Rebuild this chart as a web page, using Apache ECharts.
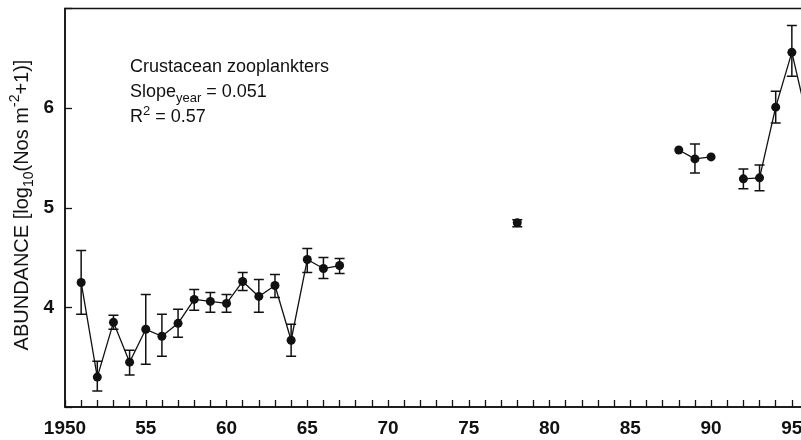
<!DOCTYPE html>
<html>
<head>
<meta charset="utf-8">
<script src="https://cdn.jsdelivr.net/npm/echarts@6/dist/echarts.min.js"></script>
<style>
  html, body { margin: 0; padding: 0; background: #fff; }
  #main { width: 801px; height: 440px; }
</style>
</head>
<body>
<div id="main"></div>
<script>
// data
const years = [1951, 1952, 1953, 1954, 1955, 1956, 1957, 1958, 1959, 1960, 1961, 1962, 1963, 1964, 1965, 1966, 1967,
  1978, 1988, 1989, 1990, 1992, 1993, 1994, 1995, 1996]
const abundance = [4.25, 3.30, 3.85, 3.45, 3.78, 3.71, 3.84, 4.08, 4.06, 4.04, 4.26, 4.11, 4.22, 3.67, 4.48, 4.39, 4.42,
  4.85, 5.58, 5.49, 5.51, 5.29, 5.30, 6.01, 6.56, 5.86]
const errLow = [3.93, 3.16, 3.78, 3.32, 3.43, 3.51, 3.70, 3.97, 3.95, 3.95, 4.17, 3.95, 4.10, 3.51, 4.35, 4.29, 4.34,
  4.81, null, 5.35, null, 5.19, 5.17, 5.85, 6.32, null]
const errHigh = [4.57, 3.46, 3.92, 3.57, 4.13, 3.93, 3.98, 4.18, 4.15, 4.13, 4.35, 4.28, 4.33, 3.83, 4.59, 4.50, 4.49,
  4.88, null, 5.64, null, 5.39, 5.43, 6.17, 6.83, null]
const yTicks = [4, 5, 6]

const font = 'Liberation Sans, Arial, Helvetica, sans-serif'
const ink = '#111'

// line only joins consecutive years
const lineData = []
years.forEach((y, i) => {
  if (i > 0 && y - years[i - 1] > 1) lineData.push('-')
  lineData.push([y, abundance[i]])
})
const errData = []
years.forEach((y, i) => {
  if (errLow[i] != null) errData.push([y, errLow[i], errHigh[i]])
})

const chart = echarts.init(document.getElementById('main'))
const option = {
  backgroundColor: '#fff',
  animation: false,
  grid: {
    left: 65,
    right: -7,
    top: 8.5,
    bottom: 33,
    outerBoundsMode: 'none',
    containLabel: false,
    show: true,
    borderColor: ink,
    borderWidth: 1.5
  },
  xAxis: {
    type: 'value',
    min: 1950,
    max: 1996,
    interval: 1,
    splitLine: { show: false },
    axisLine: { lineStyle: { color: ink, width: 1.5 } },
    axisTick: { inside: true, length: 7, lineStyle: { color: ink, width: 1.3 } },
    axisLabel: {
      margin: 12,
      color: ink,
      fontFamily: font,
      fontWeight: 'bold',
      fontSize: 19,
      formatter: (v) => {
        if (v % 5 !== 0 || v > 1995) return ''
        return v === 1950 ? '1950' : String(v % 100)
      }
    }
  },
  yAxis: {
    type: 'value',
    min: 3,
    max: 7,
    interval: 1,
    splitLine: { show: false },
    axisLine: { lineStyle: { color: ink, width: 1.5 } },
    axisTick: { inside: true, length: 7, lineStyle: { color: ink, width: 1.3 } },
    axisLabel: {
      margin: 11,
      color: ink,
      fontFamily: font,
      fontWeight: 'bold',
      fontSize: 19,
      formatter: (v) => (yTicks.indexOf(v) >= 0 ? String(v) : '')
    }
  },
  graphic: [
    {
      type: 'text',
      x: 22,
      y: 205,
      rotation: Math.PI / 2,
      style: {
        text: '{a|ABUNDANCE [log}{s|10}{a|(Nos m}{p|-2}{a|+1)]}',
        align: 'center',
        verticalAlign: 'middle',
        fill: ink,
        rich: {
          a: { fontFamily: font, fontSize: 20, lineHeight: 28, verticalAlign: 'middle', color: ink },
          s: { fontFamily: font, fontSize: 14, lineHeight: 13, verticalAlign: 'bottom', color: ink },
          p: { fontFamily: font, fontSize: 14, lineHeight: 13, verticalAlign: 'top', color: ink }
        }
      }
    },
    {
      type: 'text',
      x: 130,
      y: 67,
      style: {
        text: 'Crustacean zooplankters',
        font: '18px ' + font,
        fill: ink,
        verticalAlign: 'middle'
      }
    },
    {
      type: 'text',
      x: 130,
      y: 92,
      style: {
        text: '{a|Slope}{s|year}{a| = 0.051}',
        verticalAlign: 'middle',
        fill: ink,
        rich: {
          a: { fontFamily: font, fontSize: 18, lineHeight: 26, verticalAlign: 'middle', color: ink },
          s: { fontFamily: font, fontSize: 13, lineHeight: 12, verticalAlign: 'bottom', color: ink }
        }
      }
    },
    {
      type: 'text',
      x: 130,
      y: 117,
      style: {
        text: '{a|R}{p|2}{a| = 0.57}',
        verticalAlign: 'middle',
        fill: ink,
        rich: {
          a: { fontFamily: font, fontSize: 18, lineHeight: 24, verticalAlign: 'middle', color: ink },
          p: { fontFamily: font, fontSize: 13, lineHeight: 12, verticalAlign: 'top', color: ink }
        }
      }
    }
  ],
  series: [
    {
      type: 'custom',
      clip: true,
      data: errData,
      encode: { x: 0, y: [1, 2] },
      renderItem: (params, api) => {
        const lo = api.coord([api.value(0), api.value(1)])
        const hi = api.coord([api.value(0), api.value(2)])
        const w = 5
        const st = { stroke: ink, lineWidth: 1.5 }
        return {
          type: 'group',
          children: [
            { type: 'line', shape: { x1: lo[0], y1: lo[1], x2: hi[0], y2: hi[1] }, style: st },
            { type: 'line', shape: { x1: lo[0] - w, y1: lo[1], x2: lo[0] + w, y2: lo[1] }, style: st },
            { type: 'line', shape: { x1: hi[0] - w, y1: hi[1], x2: hi[0] + w, y2: hi[1] }, style: st }
          ]
        }
      }
    },
    {
      type: 'line',
      data: lineData,
      connectNulls: false,
      clip: true,
      symbol: 'circle',
      symbolSize: 9,
      lineStyle: { color: ink, width: 1.3 },
      itemStyle: { color: ink }
    }
  ]
}
chart.setOption(option)
</script>
</body>
</html>
